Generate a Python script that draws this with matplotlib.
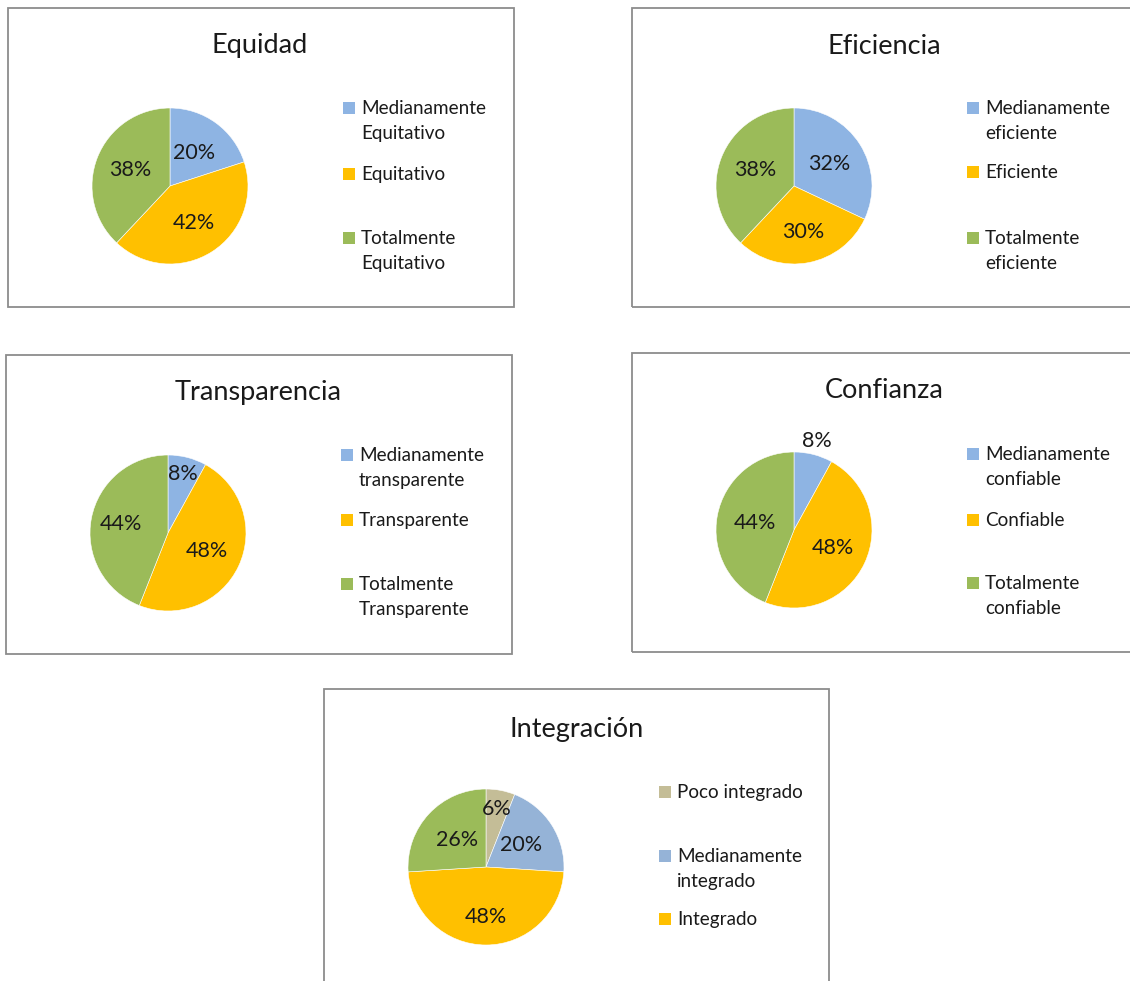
import matplotlib
matplotlib.use("Agg")
import matplotlib.pyplot as plt
from matplotlib.patches import Rectangle
import numpy as np

plt.rcParams['font.family'] = ['Lato', 'DejaVu Sans']

W, H = 1130, 981

# ---- data ----
equidad_labels = ["Medianamente\nEquitativo", "Equitativo", "Totalmente\nEquitativo"]
equidad_values = [20, 42, 38]

eficiencia_labels = ["Medianamente\neficiente", "Eficiente", "Totalmente\neficiente"]
eficiencia_values = [32, 30, 38]

transparencia_labels = ["Medianamente\ntransparente", "Transparente", "Totalmente\nTransparente"]
transparencia_values = [8, 48, 44]

confianza_labels = ["Medianamente\nconfiable", "Confiable", "Totalmente\nconfiable"]
confianza_values = [8, 48, 44]

integracion_labels = ["Poco integrado", "Medianamente\nintegrado", "Integrado"]
integracion_values = [6, 20, 48, 26]

BLUE = "#8EB4E3"
BLUE2 = "#95B3D7"
ORANGE = "#FFC000"
GREEN = "#9BBB59"
TAN = "#C4BD97"

fig = plt.figure(figsize=(W / 100, H / 100), dpi=100)
fig.patch.set_facecolor("white")


def fx(x):
    return x / W


def fy(y):
    return 1 - y / H


def box(x0, y0, x1, y1):
    r = Rectangle((fx(x0), fy(y1)), fx(x1) - fx(x0), fy(y0) - fy(y1),
                  transform=fig.transFigure, fill=False, edgecolor="#8c8c8c",
                  linewidth=1.3, zorder=0)
    fig.patches.append(r)


def pie_chart(title, values, colors, legend_labels, legend_colors,
              cx, cy, tx, ty, dists, lx, ly_list, r=78):
    ax = fig.add_axes([fx(cx - r), fy(cy + r), 2 * r / W, 2 * r / H])
    wedges, _, autotexts = ax.pie(values, colors=colors, startangle=90,
                                  counterclock=False, autopct='%1.0f%%',
                                  wedgeprops=dict(edgecolor="white", linewidth=0.4),
                                  textprops=dict(fontsize=15.5, color="#1a1a1a"))
    for w, t, d in zip(wedges, autotexts, dists):
        th = np.deg2rad((w.theta1 + w.theta2) / 2)
        t.set_position((d * np.cos(th), d * np.sin(th)))
        t.set_ha("center")
        t.set_va("center")
    ax.set_xlim(-1, 1)
    ax.set_ylim(-1, 1)
    ax.set_aspect("equal")
    ax.axis("off")
    fig.text(fx(tx), fy(ty), title, ha="center", va="center", fontsize=19.5,
             color="#1a1a1a")
    for lab, col, ly in zip(legend_labels, legend_colors, ly_list):
        sq = 12
        fig.patches.append(Rectangle((fx(lx - 18), fy(ly + sq / 2)), sq / W, sq / H,
                                     transform=fig.transFigure, facecolor=col,
                                     edgecolor="none"))
        fig.text(fx(lx), fy(ly - 8), lab, ha="left", va="top", fontsize=13.6,
                 color="#1a1a1a", linespacing=1.55)


box(8, 8, 514, 307)
box(632, 8, 1135, 307)
box(6, 355, 512, 654)
box(632, 353, 1135, 652)
box(324, 689, 829, 990)

pie_chart("Equidad", equidad_values, [BLUE, ORANGE, GREEN],
          equidad_labels, [BLUE, ORANGE, GREEN],
          170, 186, 260, 46, [0.52, 0.56, 0.55], 361, [108, 174, 238])
pie_chart("Eficiencia", eficiencia_values, [BLUE, ORANGE, GREEN],
          eficiencia_labels, [BLUE, ORANGE, GREEN],
          794, 186, 884, 46, [0.53, 0.6, 0.54], 985, [108, 172, 238])
pie_chart("Transparencia", transparencia_values, [BLUE, ORANGE, GREEN],
          transparencia_labels, [BLUE, ORANGE, GREEN],
          168, 533, 258, 392, [0.78, 0.55, 0.62], 359, [455, 520, 584])
pie_chart("Confianza", confianza_values, [BLUE, ORANGE, GREEN],
          confianza_labels, [BLUE, ORANGE, GREEN],
          794, 530, 884, 390, [1.18, 0.55, 0.51], 985, [454, 520, 583])
pie_chart("Integración", integracion_values, [TAN, BLUE2, ORANGE, GREEN],
          integracion_labels, [TAN, BLUE2, ORANGE],
          486, 867, 577, 729, [0.76, 0.53, 0.64, 0.51], 677, [792, 856, 919])

fig.savefig("out.png", dpi=100, facecolor="white")
